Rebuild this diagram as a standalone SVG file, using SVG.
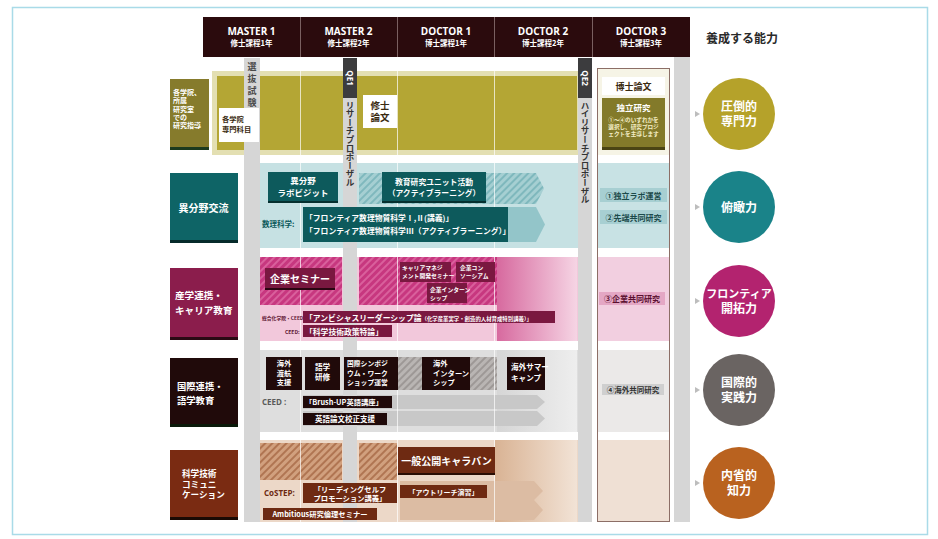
<svg xmlns="http://www.w3.org/2000/svg" width="938" height="539" viewBox="0 0 938 539">
<style>
text{font-family:"Noto Sans CJK JP","Noto Sans",sans-serif;font-weight:700}
.w{fill:#fff}
.c{text-anchor:middle}
.hd1{font-size:10px;fill:#fff;text-anchor:middle;font-family:"Open Sans","Noto Sans",sans-serif}
.hd2{font-size:7.5px;fill:#fff;text-anchor:middle}
.lab{fill:#fff}
.vt{writing-mode:vertical-rl;font-size:8.6px;fill:#333}
.circ{font-size:12px;fill:#fff;text-anchor:middle}
.gbar{fill:#d6d6d6}
.qe{fill:#3c3c3e}
.sep{stroke:#fff;stroke-width:1;opacity:.7}
</style>
<defs>
<pattern id="hT" width="5" height="5" patternUnits="userSpaceOnUse" patternTransform="rotate(45)"><rect width="5" height="5" fill="#a5cfd2"/><rect width="2" height="5" fill="#7fb8bd"/></pattern>
<pattern id="hM" width="5" height="5" patternUnits="userSpaceOnUse" patternTransform="rotate(45)"><rect width="5" height="5" fill="#c7377f"/><rect width="2" height="5" fill="#d9609c"/></pattern>
<pattern id="hG" width="5" height="5" patternUnits="userSpaceOnUse" patternTransform="rotate(45)"><rect width="5" height="5" fill="#b9b5b3"/><rect width="2" height="5" fill="#9d9896"/></pattern>
<pattern id="hB" width="5" height="5" patternUnits="userSpaceOnUse" patternTransform="rotate(45)"><rect width="5" height="5" fill="#d1a07e"/><rect width="2" height="5" fill="#b07552"/></pattern>
<linearGradient id="gM" x1="0" x2="1" y1="0" y2="0"><stop offset="0" stop-color="#d45f98"/><stop offset="1" stop-color="#f6d6e5"/></linearGradient>
<linearGradient id="gG" x1="0" x2="1" y1="0" y2="0"><stop offset="0" stop-color="#d6d6d6"/><stop offset="1" stop-color="#eeeeee"/></linearGradient>
<linearGradient id="gB" x1="0" x2="1" y1="0" y2="0"><stop offset="0" stop-color="#d9b394"/><stop offset="1" stop-color="#f2e3d6"/></linearGradient>
</defs>

<rect x="0" y="0" width="938" height="539" fill="#fff"/>
<rect x="12.5" y="7.5" width="915" height="527" fill="none" stroke="#a9dbe8" stroke-width="1.5"/>

<g id="header">
<rect x="203" y="17" width="487" height="40" fill="#2b0b0d"/>
<line x1="300.5" y1="17" x2="300.5" y2="57" stroke="#7a6060" stroke-width="1"/>
<line x1="397.5" y1="17" x2="397.5" y2="57" stroke="#7a6060" stroke-width="1"/>
<line x1="494.5" y1="17" x2="494.5" y2="57" stroke="#7a6060" stroke-width="1"/>
<line x1="592.5" y1="17" x2="592.5" y2="57" stroke="#7a6060" stroke-width="1"/>
<text class="hd1" x="251.5" y="35">MASTER 1</text><text class="hd2" x="251.5" y="46">修士課程1年</text>
<text class="hd1" x="348.5" y="35">MASTER 2</text><text class="hd2" x="348.5" y="46">修士課程2年</text>
<text class="hd1" x="446" y="35">DOCTOR 1</text><text class="hd2" x="446" y="46">博士課程1年</text>
<text class="hd1" x="543" y="35">DOCTOR 2</text><text class="hd2" x="543" y="46">博士課程2年</text>
<text class="hd1" x="641" y="35">DOCTOR 3</text><text class="hd2" x="641" y="46">博士課程3年</text>
<text x="706" y="43" style="font-size:12px;fill:#2a2a2a">養成する能力</text>
</g>

<g id="d3col">
<rect x="597" y="68" width="73" height="87" fill="#f6f4e6"/>
<rect x="597" y="163" width="73" height="85" fill="#c8e2e4"/>
<rect x="597" y="257" width="73" height="84" fill="#f2cfe0"/>
<rect x="597" y="350" width="73" height="82" fill="#ebe9e8"/>
<rect x="597" y="440" width="73" height="82" fill="#efe0d4"/>
<rect x="597.5" y="68.5" width="72" height="453" fill="none" stroke="#8c6e66" stroke-width="1"/>
</g>

<g id="row1">
<rect x="212" y="71" width="366" height="84" fill="#e3dfb2"/>
<rect x="217" y="76" width="360" height="74" fill="#b4a634"/>
<rect x="170" y="79" width="39" height="71" fill="#867b2c"/>
<rect x="170" y="147" width="39" height="3" fill="#1c3a1e"/>
<g class="lab" style="font-size:7px"><text x="173" y="95">各学院、</text><text x="173" y="103.3">所属</text><text x="173" y="111.6">研究室</text><text x="173" y="119.9">での</text><text x="173" y="128.2">研究指導</text></g>
</g>

<g id="row2">
<rect x="260" y="163" width="318" height="85" fill="#c6e1e3"/>
<polygon points="359,173 536,173 544,188.5 536,204 359,204" fill="url(#hT)"/>
<polygon points="303,207 536,207 545,224.5 536,242 303,242" fill="#93c5c9"/>
<rect x="170" y="173" width="68" height="70" fill="#0e6466"/>
<rect x="170" y="240" width="68" height="3" fill="#062a2a"/>
<text class="lab c" x="203.5" y="211.5" style="font-size:10px">異分野交流</text>
</g>

<g id="row3">
<rect x="260" y="257" width="318" height="84" fill="#f2c8db"/>
<rect x="260" y="257" width="82" height="48" fill="url(#hM)"/>
<rect x="359" y="257" width="138" height="48" fill="url(#hM)"/>
<rect x="497" y="257" width="80" height="84" fill="url(#gM)" opacity=".9"/>
<rect x="170" y="268" width="68" height="72" fill="#8b1d4c"/>
<rect x="170" y="337" width="68" height="3" fill="#2a0a14"/>
<g class="lab" style="font-size:9.6px"><text x="175" y="299">産学連携・</text><text x="175" y="314">キャリア教育</text></g>
</g>

<g id="row4">
<rect x="260" y="350" width="318" height="82" fill="#dedede"/>
<rect x="497" y="350" width="80" height="82" fill="url(#gG)"/>
<rect x="398" y="357" width="24" height="33" fill="url(#hG)"/>
<rect x="470" y="357" width="27" height="33" fill="url(#hG)"/>
<polygon points="303,395 537,395 545,402 537,409 303,409" fill="#c8c8c8"/>
<polygon points="303,411 537,411 545,418.5 537,426 303,426" fill="#c8c8c8"/>
<rect x="170" y="358" width="68" height="69" fill="#200a0a"/>
<rect x="170" y="424" width="68" height="3" fill="#0a1a0a"/>
<g class="lab" style="font-size:9.3px"><text x="177" y="390">国際連携・</text><text x="177" y="404">語学教育</text></g>
</g>

<g id="row5">
<rect x="260" y="440" width="318" height="82" fill="#ecd8c8"/>
<rect x="495" y="440" width="82" height="82" fill="url(#gB)"/>
<rect x="260" y="443" width="82" height="37" fill="url(#hB)"/>
<rect x="359" y="443" width="38" height="37" fill="url(#hB)"/>
<polygon points="400,481 534,481 543,491 534,500 543,510 534,520 400,520" fill="#dcbca3"/>
<rect x="170" y="450" width="68" height="70" fill="#7a2b12"/>
<rect x="170" y="517" width="68" height="3" fill="#1a0a04"/>
<g class="lab" style="font-size:8.6px"><text x="182" y="477">科学技術</text><text x="182" y="487.5">コミュニ</text><text x="182" y="498">ケーション</text></g>
</g>

<g id="bars">
<line class="sep" x1="300.5" y1="71" x2="300.5" y2="522"/>
<line class="sep" x1="397.5" y1="71" x2="397.5" y2="522"/>
<line class="sep" x1="494.5" y1="71" x2="494.5" y2="522"/>
<rect class="gbar" x="244" y="58" width="16" height="464"/>
<rect class="gbar" x="343" y="58" width="14" height="464"/>
<rect class="gbar" x="578" y="58" width="14" height="464"/>
<rect class="gbar" x="674" y="57" width="16" height="465"/>
<rect class="qe" x="343" y="58" width="14" height="40"/>
<rect class="qe" x="578" y="58" width="14" height="40"/>
<text class="w c" transform="translate(347,78) rotate(90)" style="font-size:8px;font-family:'Open Sans',sans-serif">QE1</text>
<text class="w c" transform="translate(582,78) rotate(90)" style="font-size:8px;font-family:'Open Sans',sans-serif">QE2</text>
<text class="vt" x="252" y="62" style="font-size:9px;fill:#4a4a4a;letter-spacing:3px">選抜試験</text>
<text class="vt" x="350" y="101">リサーチプロポーザル</text>
<text class="vt" x="585" y="101">ハイリサーチプロポーザル</text>
</g>

<g id="n-senmon"><rect x="219" y="108" width="40" height="34" fill="#fff"/><g style="font-size:7.3px;fill:#3a2a10"><text x="222" y="121.5">各学院</text><text x="222" y="131.5">専門科目</text></g></g>
<g id="n-shushi"><rect x="363" y="95" width="34" height="33" fill="#fff"/><g class="c" style="font-size:9.5px;fill:#3a2a10"><text x="380" y="109">修士</text><text x="380" y="121">論文</text></g></g>
<g id="n-hakushi"><rect x="602" y="77" width="63" height="18" fill="#fff"/><text class="c" x="633.5" y="89.5" style="font-size:9px;fill:#3a2a10">博士論文</text></g>
<g id="n-dokuritsu"><rect x="602" y="98" width="63" height="52" fill="#837a2a"/><rect x="602" y="147" width="63" height="3" fill="#4a4414"/><text class="w c" x="633.5" y="111" style="font-size:8.5px">独立研究</text><g class="c" style="font-size:5.6px;fill:#f3eec6"><text x="633.5" y="122">①～④のいずれかを</text><text x="633.5" y="129">選択し、研究プロジ</text><text x="633.5" y="136">ェクトを主導します</text></g></g>

<g id="n-labvisit"><rect x="268" y="172" width="70" height="31" fill="#0d5a5c"/><rect x="268" y="201" width="70" height="2" fill="#05302f"/><g class="w c" style="font-size:8.5px"><text x="303" y="184">異分野</text><text x="303" y="196">ラボビジット</text></g></g>
<g id="n-unit"><rect x="382" y="172" width="104" height="31" fill="#0d5a5c"/><rect x="382" y="201" width="104" height="2" fill="#05302f"/><g class="w c" style="font-size:7.8px"><text x="434" y="185">教育研究ユニット活動</text><text x="434" y="196">（アクティブラーニング）</text></g></g>
<g id="n-suri"><text x="262" y="227" style="font-size:7.5px;fill:#0d5a5c">数理科学:</text><rect x="303" y="207" width="205" height="35" fill="#0d5a5c"/><g class="w" style="font-size:7.8px"><text x="305" y="221">「フロンティア数理物質科学Ⅰ,Ⅱ(講義)」</text><text x="305" y="234">「フロンティア数理物質科学Ⅲ（アクティブラーニング）」</text></g></g>
<g id="n-lab1"><rect x="600" y="188" width="67" height="14" fill="#a7cfd2"/><text class="c" x="633.5" y="198.5" style="font-size:8px;fill:#1b4a4a">①独立ラボ運営</text></g>
<g id="n-lab2"><rect x="600" y="210" width="67" height="14" fill="#a7cfd2"/><text class="c" x="633.5" y="220.5" style="font-size:8px;fill:#1b4a4a">②先端共同研究</text></g>

<g id="n-seminar"><rect x="265" y="268" width="70" height="22" fill="#7a1840"/><rect x="265" y="288" width="70" height="2" fill="#2a0612"/><text class="w c" x="300" y="283" style="font-size:10px">企業セミナー</text></g>
<g id="n-career"><rect x="400" y="262" width="51" height="20" fill="#7a1840"/><g class="w" style="font-size:5.8px"><text x="402" y="270">キャリアマネジ</text><text x="402" y="278">メント開発セミナー</text></g></g>
<g id="n-consort"><rect x="456" y="262" width="39" height="20" fill="#7a1840"/><g class="w" style="font-size:5.8px"><text x="460" y="270">企業コン</text><text x="460" y="278">ソーシアム</text></g></g>
<g id="n-intern"><rect x="427" y="283" width="40" height="20" fill="#7a1840"/><g class="w" style="font-size:5.8px"><text x="430" y="292">企業インターン</text><text x="430" y="300">シップ</text></g></g>
<g id="n-ambi"><text x="262" y="320" style="font-size:4.8px;fill:#5a1030">総合化学院・CEED:</text><rect x="303" y="311" width="252" height="12" fill="#7a1840"/><text class="w" x="305" y="320.5" style="font-size:7.8px">「アンビシャスリーダーシップ論<tspan style="font-size:5.4px">（化学産業実学・創造的人材育成特別講義）」</tspan></text></g>
<g id="n-seisaku"><text x="285" y="334" style="font-size:5px;fill:#5a1030">CEED:</text><rect x="303" y="325" width="89" height="12" fill="#7a1840"/><text class="w" x="305" y="334.5" style="font-size:7.8px">「科学技術政策特論」</text></g>
<g id="n-lab3"><rect x="599" y="292" width="66" height="13" fill="#e4a7c4"/><text class="c" x="632" y="302" style="font-size:8px;fill:#5a1030">③企業共同研究</text></g>

<g id="n-tokou"><rect x="266" y="357" width="36" height="33" fill="#200a0a"/><g class="w c" style="font-size:7.3px"><text x="284" y="366">海外</text><text x="284" y="375.5">渡航</text><text x="284" y="385">支援</text></g></g>
<g id="n-gogaku"><rect x="305" y="357" width="35" height="33" fill="#200a0a"/><g class="w c" style="font-size:7.6px"><text x="322.5" y="370">語学</text><text x="322.5" y="380">研修</text></g></g>
<g id="n-sympo"><rect x="344" y="357" width="54" height="33" fill="#200a0a"/><g class="w" style="font-size:6.8px"><text x="347" y="366">国際シンポジ</text><text x="347" y="375.5">ウム・ワーク</text><text x="347" y="385">ショップ運営</text></g></g>
<g id="n-kaigai"><rect x="422" y="357" width="48" height="33" fill="#200a0a"/><g class="w" style="font-size:7.3px"><text x="433" y="366">海外</text><text x="433" y="375.5">インターン</text><text x="433" y="385">シップ</text></g></g>
<g id="n-summer"><rect x="507" y="357" width="38" height="33" fill="#200a0a"/><g class="w" style="font-size:7.6px"><text x="511" y="370">海外サマー</text><text x="511" y="381">キャンプ</text></g></g>
<g id="n-brush"><text x="262" y="405" style="font-size:8px;fill:#5a5a5a;font-family:'Open Sans',sans-serif">CEED :</text><rect x="303" y="396" width="89" height="12" fill="#200a0a"/><text class="w" x="305" y="405.3" style="font-size:7.3px">「Brush-UP英語講座」</text></g>
<g id="n-kousei"><rect x="303" y="413" width="84" height="12" fill="#200a0a"/><text class="w c" x="345" y="422.3" style="font-size:7.5px">英語論文校正支援</text></g>
<g id="n-lab4"><rect x="602" y="384" width="62" height="11" fill="#cfcfcf"/><text class="c" x="633" y="392.8" style="font-size:7.5px;fill:#333">④海外共同研究</text></g>

<g id="n-caravan"><rect x="398" y="447" width="97" height="28" fill="#6e2a12"/><rect x="398" y="473" width="97" height="2" fill="#2a0e04"/><text class="w c" x="446.5" y="465" style="font-size:10px">一般公開キャラバン</text></g>
<g id="n-leading"><text x="264" y="496" style="font-size:8px;fill:#6e2a12;font-family:'Open Sans',sans-serif">CoSTEP:</text><rect x="303" y="483" width="94" height="20" fill="#6e2a12"/><g class="w c" style="font-size:7.3px"><text x="350" y="491.5">「リーディングセルフ</text><text x="350" y="500.5">プロモーション講義」</text></g></g>
<g id="n-outreach"><rect x="400" y="485" width="87" height="13" fill="#6e2a12"/><text class="w c" x="443.5" y="494.8" style="font-size:7px">「アウトリーチ演習」</text></g>
<g id="n-ethics"><rect x="263" y="508" width="114" height="12" fill="#6e2a12"/><text class="w c" x="320" y="517" style="font-size:7.3px">Ambitious研究倫理セミナー</text></g>

<g id="connectors" fill="#bdbdbd">
<polygon points="695,111 700,114 695,117"/>
<polygon points="695,204 700,207 695,210"/>
<polygon points="695,298 700,301 695,304"/>
<polygon points="695,387 700,390 695,393"/>
<polygon points="695,480 700,483 695,486"/>
</g>

<g id="a-senmon"><circle cx="739" cy="114" r="36" fill="#b5a22a"/><text class="circ" x="739" y="111">圧倒的</text><text class="circ" x="739" y="126">専門力</text></g>
<g id="a-fukan"><circle cx="739" cy="207" r="36" fill="#1a8389"/><text class="circ" x="739" y="211.5">俯瞰力</text></g>
<g id="a-frontier"><circle cx="739" cy="301" r="36" fill="#b3236f"/><text class="circ" x="739" y="298" style="font-size:11px">フロンティア</text><text class="circ" x="739" y="313">開拓力</text></g>
<g id="a-kokusai"><circle cx="739" cy="390" r="36" fill="#6a6462"/><text class="circ" x="739" y="387">国際的</text><text class="circ" x="739" y="402">実践力</text></g>
<g id="a-naisei"><circle cx="739" cy="483" r="36" fill="#b9621f"/><text class="circ" x="739" y="480">内省的</text><text class="circ" x="739" y="495">知力</text></g>
</svg>
